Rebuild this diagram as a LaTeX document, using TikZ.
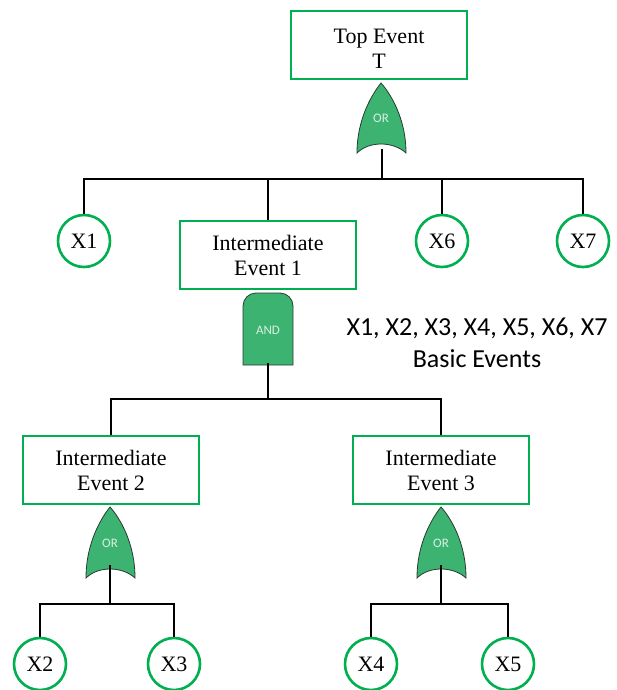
\documentclass[tikz,border=0pt]{standalone}
\usepackage{fontspec}
\setmainfont{Liberation Serif}
\newfontfamily\calib{Carlito}
\definecolor{boxgreen}{RGB}{0,176,80}
\definecolor{gatefill}{RGB}{60,179,113}
\definecolor{gateedge}{RGB}{40,60,50}
\begin{document}
\begin{tikzpicture}[x=1pt,y=-1pt,
  evbox/.style={draw=boxgreen,line width=2.6pt,minimum width=176pt,minimum height=68pt,inner sep=0pt,align=center,font=\fontsize{22}{25}\selectfont},
  basic/.style={draw=boxgreen,line width=2.6pt,circle,minimum size=52pt,inner sep=0pt,font=\fontsize{22}{25}\selectfont},
  wire/.style={line width=1.8pt,black},
  gate/.style={fill=gatefill,draw=gateedge,line width=0.8pt},
  gatelbl/.style={text=white!80!gatefill,font=\calib\fontsize{13}{14}\selectfont}]
\useasboundingbox (0,0) rectangle (617,690);
% event boxes
\node[evbox] (top) at (379,45) {\rule{0pt}{23pt}Top Event\\T};
\node[evbox] (ie1) at (268,255) {Intermediate\\Event 1};
\node[evbox] (ie2) at (111,470) {Intermediate\\Event 2};
\node[evbox] (ie3) at (441,470) {Intermediate\\Event 3};
% basic events
\node[basic] (x1) at (84,241) {X1};
\node[basic] (x6) at (442,241) {X6};
\node[basic] (x7) at (583,241) {X7};
\node[basic] (x2) at (40,664) {X2};
\node[basic] (x3) at (174,664) {X3};
\node[basic] (x4) at (371,664) {X4};
\node[basic] (x5) at (508,664) {X5};
% OR gate under top
\path[gate] (381,83) .. controls (373,93) and (357,118) .. (357,153)
  .. controls (369,141) and (393,141) .. (406,153)
  .. controls (406,118) and (390,93) .. (381,83) -- cycle;
\node[gatelbl] (or1) at (381,118) {OR};
\coordinate (g1) at (382,149);
\coordinate (b1) at (382,179);
% AND gate under ie1
\path[gate] (243,365) -- (243,306) arc[start angle=180,end angle=270,radius=13] -- (280,293) arc[start angle=270,end angle=360,radius=13] -- (293,365) -- cycle;
\node[gatelbl] (and1) at (268,330) {AND};
\coordinate (g2) at (268,363);
\coordinate (b2) at (268,399);
% OR gate under ie2
\path[gate] (110,507) .. controls (102,517) and (86,542) .. (86,578)
  .. controls (98,566) and (122,566) .. (135,578)
  .. controls (135,542) and (119,517) .. (110,507) -- cycle;
\node[gatelbl] (or2) at (110,543) {OR};
\coordinate (g3) at (110,565);
\coordinate (b3) at (110,604);
% OR gate under ie3
\path[gate] (441,507) .. controls (433,517) and (417,542) .. (417,578)
  .. controls (429,566) and (453,566) .. (466,578)
  .. controls (466,542) and (450,517) .. (441,507) -- cycle;
\node[gatelbl] (or3) at (441,543) {OR};
\coordinate (g4) at (441,565);
\coordinate (b4) at (441,604);
% wires
\draw[wire] (g1) -- (b1);
\draw[wire] (b1) -| (x1.north);
\draw[wire] (b1) -| (ie1.north);
\draw[wire] (b1) -| (x6.north);
\draw[wire] (b1) -| (x7.north);
\draw[wire] (g2) -- (b2);
\draw[wire] (b2) -| (ie2.north);
\draw[wire] (b2) -| (ie3.north);
\draw[wire] (g3) -- (b3);
\draw[wire] (b3) -| (x2.north);
\draw[wire] (b3) -| (x3.north);
\draw[wire] (g4) -- (b4);
\draw[wire] (b4) -| (x4.north);
\draw[wire] (b4) -| (x5.north);
% note
\node[align=center,font=\calib\fontsize{26}{32}\selectfont] (note) at (477,343) {X1, X2, X3, X4, X5, X6, X7\\Basic Events};
\end{tikzpicture}
\end{document}
